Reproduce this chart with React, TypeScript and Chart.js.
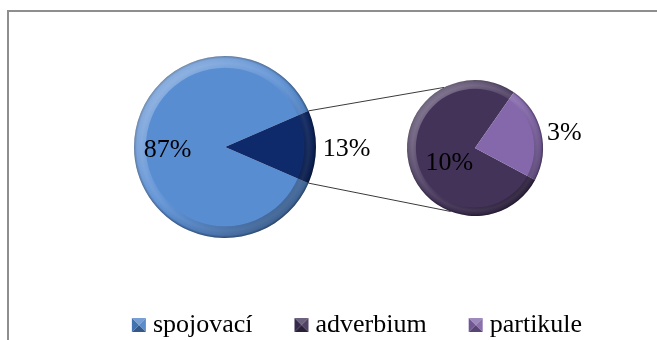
import React, { useEffect, useRef } from "react";
import { Chart, registerables } from "chart.js";

Chart.register(...registerables);

// Main pie: connectives vs. the rest, which is split out into the second pie
const mainLabels = ["spojovací", "ostatní"];
const mainValues = [87, 13];
// Secondary pie: breakdown of the 13 %
const detailLabels = ["adverbium", "partikule"];
const detailValues = [10, 3];
// Legend entries
const legendLabels = ["spojovací", "adverbium", "partikule"];

const mainColors = ["#598DD2", "#0F2A6A"];
const detailColors = ["#433359", "#8468AB"];
const legendColors = ["#4A7FC4", "#3C2E52", "#7E62A6"];

const FONT = '26px "Liberation Serif", "Times New Roman", serif';
const W = 657;
const H = 340;

function shade(hex: string, amt: number): string {
  const n = parseInt(hex.slice(1), 16);
  let r = (n >> 16) & 255;
  let g = (n >> 8) & 255;
  let b = n & 255;
  const t = amt < 0 ? 0 : 255;
  const p = Math.abs(amt);
  r = Math.round(r + (t - r) * p);
  g = Math.round(g + (t - g) * p);
  b = Math.round(b + (t - b) * p);
  return `rgb(${r},${g},${b})`;
}

// Radial bevel: flat face, faint ridge, dark rim
function bevelFill(chart: any, color: string, radius: number) {
  const area = chart.chartArea;
  if (!area) return color;
  const cx = (area.left + area.right) / 2;
  const cy = (area.top + area.bottom) / 2;
  const g = chart.ctx.createRadialGradient(cx, cy, 0, cx, cy, radius);
  g.addColorStop(0, color);
  g.addColorStop(0.86, color);
  g.addColorStop(0.92, shade(color, 0.08));
  g.addColorStop(0.97, color);
  g.addColorStop(1, shade(color, -0.35));
  return g;
}

type Placement = { dist: number; dy: number };

function sliceLabels(placements: Placement[]) {
  return {
    id: "sliceLabels",
    afterDatasetsDraw(chart: any) {
      const ctx = chart.ctx;
      const meta = chart.getDatasetMeta(0);
      const values = chart.data.datasets[0].data as number[];
      ctx.save();
      ctx.font = FONT;
      ctx.fillStyle = "#000";
      ctx.textAlign = "center";
      ctx.textBaseline = "middle";
      meta.data.forEach((arc: any, i: number) => {
        const { x, y, startAngle, endAngle, outerRadius } = arc.getProps(
          ["x", "y", "startAngle", "endAngle", "outerRadius"],
          true
        );
        const mid = (startAngle + endAngle) / 2;
        const p = placements[i];
        const d = outerRadius * p.dist;
        ctx.fillText(`${values[i]}%`, x + Math.cos(mid) * d, y + Math.sin(mid) * d + p.dy);
      });
      ctx.restore();
    },
  };
}

// Directional light on the bevelled rim: bright upper left, shaded lower right
const rimLight = {
  id: "rimLight",
  afterDatasetsDraw(chart: any) {
    const arc = chart.getDatasetMeta(0).data[0];
    if (!arc) return;
    const { x, y, outerRadius: r } = arc.getProps(["x", "y", "outerRadius"], true);
    const ctx = chart.ctx;
    ctx.save();
    ctx.beginPath();
    ctx.arc(x, y, r, 0, Math.PI * 2);
    ctx.arc(x, y, r * 0.87, 0, Math.PI * 2, true);
    ctx.clip("evenodd" as any);
    const g = ctx.createLinearGradient(x - r * 0.7, y - r * 0.7, x + r * 0.7, y + r * 0.7);
    g.addColorStop(0, "rgba(255,255,255,0.28)");
    g.addColorStop(0.45, "rgba(255,255,255,0.05)");
    g.addColorStop(0.6, "rgba(0,0,0,0.05)");
    g.addColorStop(1, "rgba(0,0,0,0.30)");
    ctx.fillStyle = g;
    ctx.fillRect(x - r, y - r, r * 2, r * 2);
    ctx.restore();
  },
};

function drawMarker(ctx: CanvasRenderingContext2D, x: number, y: number, s: number, color: string) {
  const cx = x + s / 2;
  const cy = y + s / 2;
  const tri = (ax: number, ay: number, bx: number, by: number, fill: string) => {
    ctx.beginPath();
    ctx.moveTo(ax, ay);
    ctx.lineTo(bx, by);
    ctx.lineTo(cx, cy);
    ctx.closePath();
    ctx.fillStyle = fill;
    ctx.fill();
  };
  tri(x, y, x + s, y, shade(color, 0.25));
  tri(x + s, y, x + s, y + s, shade(color, 0.1));
  tri(x + s, y + s, x, y + s, shade(color, -0.3));
  tri(x, y + s, x, y, shade(color, -0.1));
}

export default function App() {
  const mainRef = useRef<HTMLCanvasElement>(null);
  const detailRef = useRef<HTMLCanvasElement>(null);

  useEffect(() => {
    document.body.style.margin = "0";
    const mainRadius = 91;
    const detailRadius = 68;
    const mainTotal = mainValues.reduce((a, b) => a + b, 0);
    // Split-out slice centred on the right-hand side
    const mainRotation = 90 + ((mainValues[1] / mainTotal) * 360) / 2;
    const detailRotation = 118;

    const main = new Chart(mainRef.current!, {
      type: "pie",
      data: {
        labels: mainLabels,
        datasets: [
          {
            data: mainValues,
            backgroundColor: (c: any) => bevelFill(c.chart, mainColors[c.dataIndex], mainRadius),
            borderWidth: 0,
          },
        ],
      },
      options: {
        responsive: false,
        animation: false,
        rotation: mainRotation,
        radius: mainRadius,
        layout: { padding: { left: 134, right: 341, top: 56, bottom: 102 } },
        plugins: { legend: { display: false }, tooltip: { enabled: false } },
      },
      plugins: [rimLight, sliceLabels([{ dist: 0.63, dy: 3 }, { dist: 1.335, dy: 2.5 }])],
    } as any);

    const connectors = {
      id: "connectors",
      beforeDatasetsDraw(chart: any) {
        const wedge = main.getDatasetMeta(0).data[1] as any;
        const target = chart.getDatasetMeta(0).data[0] as any;
        if (!wedge || !target) return;
        const w = wedge.getProps(["x", "y", "startAngle", "endAngle", "outerRadius"], true);
        const t = target.getProps(["x", "y", "outerRadius"], true);
        const topA = (-117 * Math.PI) / 180;
        const botA = (111 * Math.PI) / 180;
        const ctx = chart.ctx;
        ctx.save();
        ctx.strokeStyle = "#3a3a3a";
        ctx.lineWidth = 1;
        ctx.beginPath();
        ctx.moveTo(w.x + Math.cos(w.startAngle) * w.outerRadius, w.y + Math.sin(w.startAngle) * w.outerRadius);
        ctx.lineTo(t.x + Math.cos(topA) * t.outerRadius, t.y + Math.sin(topA) * t.outerRadius);
        ctx.moveTo(w.x + Math.cos(w.endAngle) * w.outerRadius, w.y + Math.sin(w.endAngle) * w.outerRadius);
        ctx.lineTo(t.x + Math.cos(botA) * t.outerRadius, t.y + Math.sin(botA) * t.outerRadius);
        ctx.stroke();
        ctx.restore();
      },
    };

    const legend = {
      id: "bottomLegend",
      afterDraw(chart: any) {
        const ctx = chart.ctx;
        ctx.save();
        ctx.font = FONT;
        const box = 14;
        const boxGap = 7;
        const itemGap = 42;
        const widths = legendLabels.map((l) => ctx.measureText(l).width);
        const total =
          widths.reduce((a, b) => a + b, 0) + legendLabels.length * (box + boxGap) + (legendLabels.length - 1) * itemGap;
        let x = 357 - total / 2;
        const baseline = 332;
        legendLabels.forEach((label, i) => {
          drawMarker(ctx, x, baseline - box, box, legendColors[i]);
          x += box + boxGap;
          ctx.fillStyle = "#000";
          ctx.textAlign = "left";
          ctx.textBaseline = "alphabetic";
          ctx.fillText(label, x, baseline);
          x += widths[i] + itemGap;
        });
        ctx.restore();
      },
    };

    const detail = new Chart(detailRef.current!, {
      type: "pie",
      data: {
        labels: detailLabels,
        datasets: [
          {
            data: detailValues,
            backgroundColor: (c: any) => bevelFill(c.chart, detailColors[c.dataIndex], detailRadius),
            borderWidth: 0,
          },
        ],
      },
      options: {
        responsive: false,
        animation: false,
        rotation: detailRotation,
        radius: detailRadius,
        layout: { padding: { left: 407, right: 114, top: 80, bottom: 124 } },
        plugins: { legend: { display: false }, tooltip: { enabled: false } },
      },
      plugins: [connectors, rimLight, sliceLabels([{ dist: 0.39, dy: 9 }, { dist: 1.35, dy: 7 }]), legend],
    } as any);

    return () => {
      detail.destroy();
      main.destroy();
    };
  }, []);

  return (
    <div
      style={{
        position: "fixed",
        left: 0,
        top: 0,
        width: W,
        height: H,
        background: "#fff",
        overflow: "hidden",
      }}
    >
      <div
        style={{
          position: "absolute",
          left: 7,
          top: 10,
          width: 720,
          height: 400,
          borderTop: "2px solid #8e8e8e",
          borderLeft: "2px solid #8e8e8e",
        }}
      />
      <canvas ref={mainRef} width={W} height={H} style={{ position: "absolute", left: 0, top: 0 }} />
      <canvas ref={detailRef} width={W} height={H} style={{ position: "absolute", left: 0, top: 0 }} />
    </div>
  );
}
